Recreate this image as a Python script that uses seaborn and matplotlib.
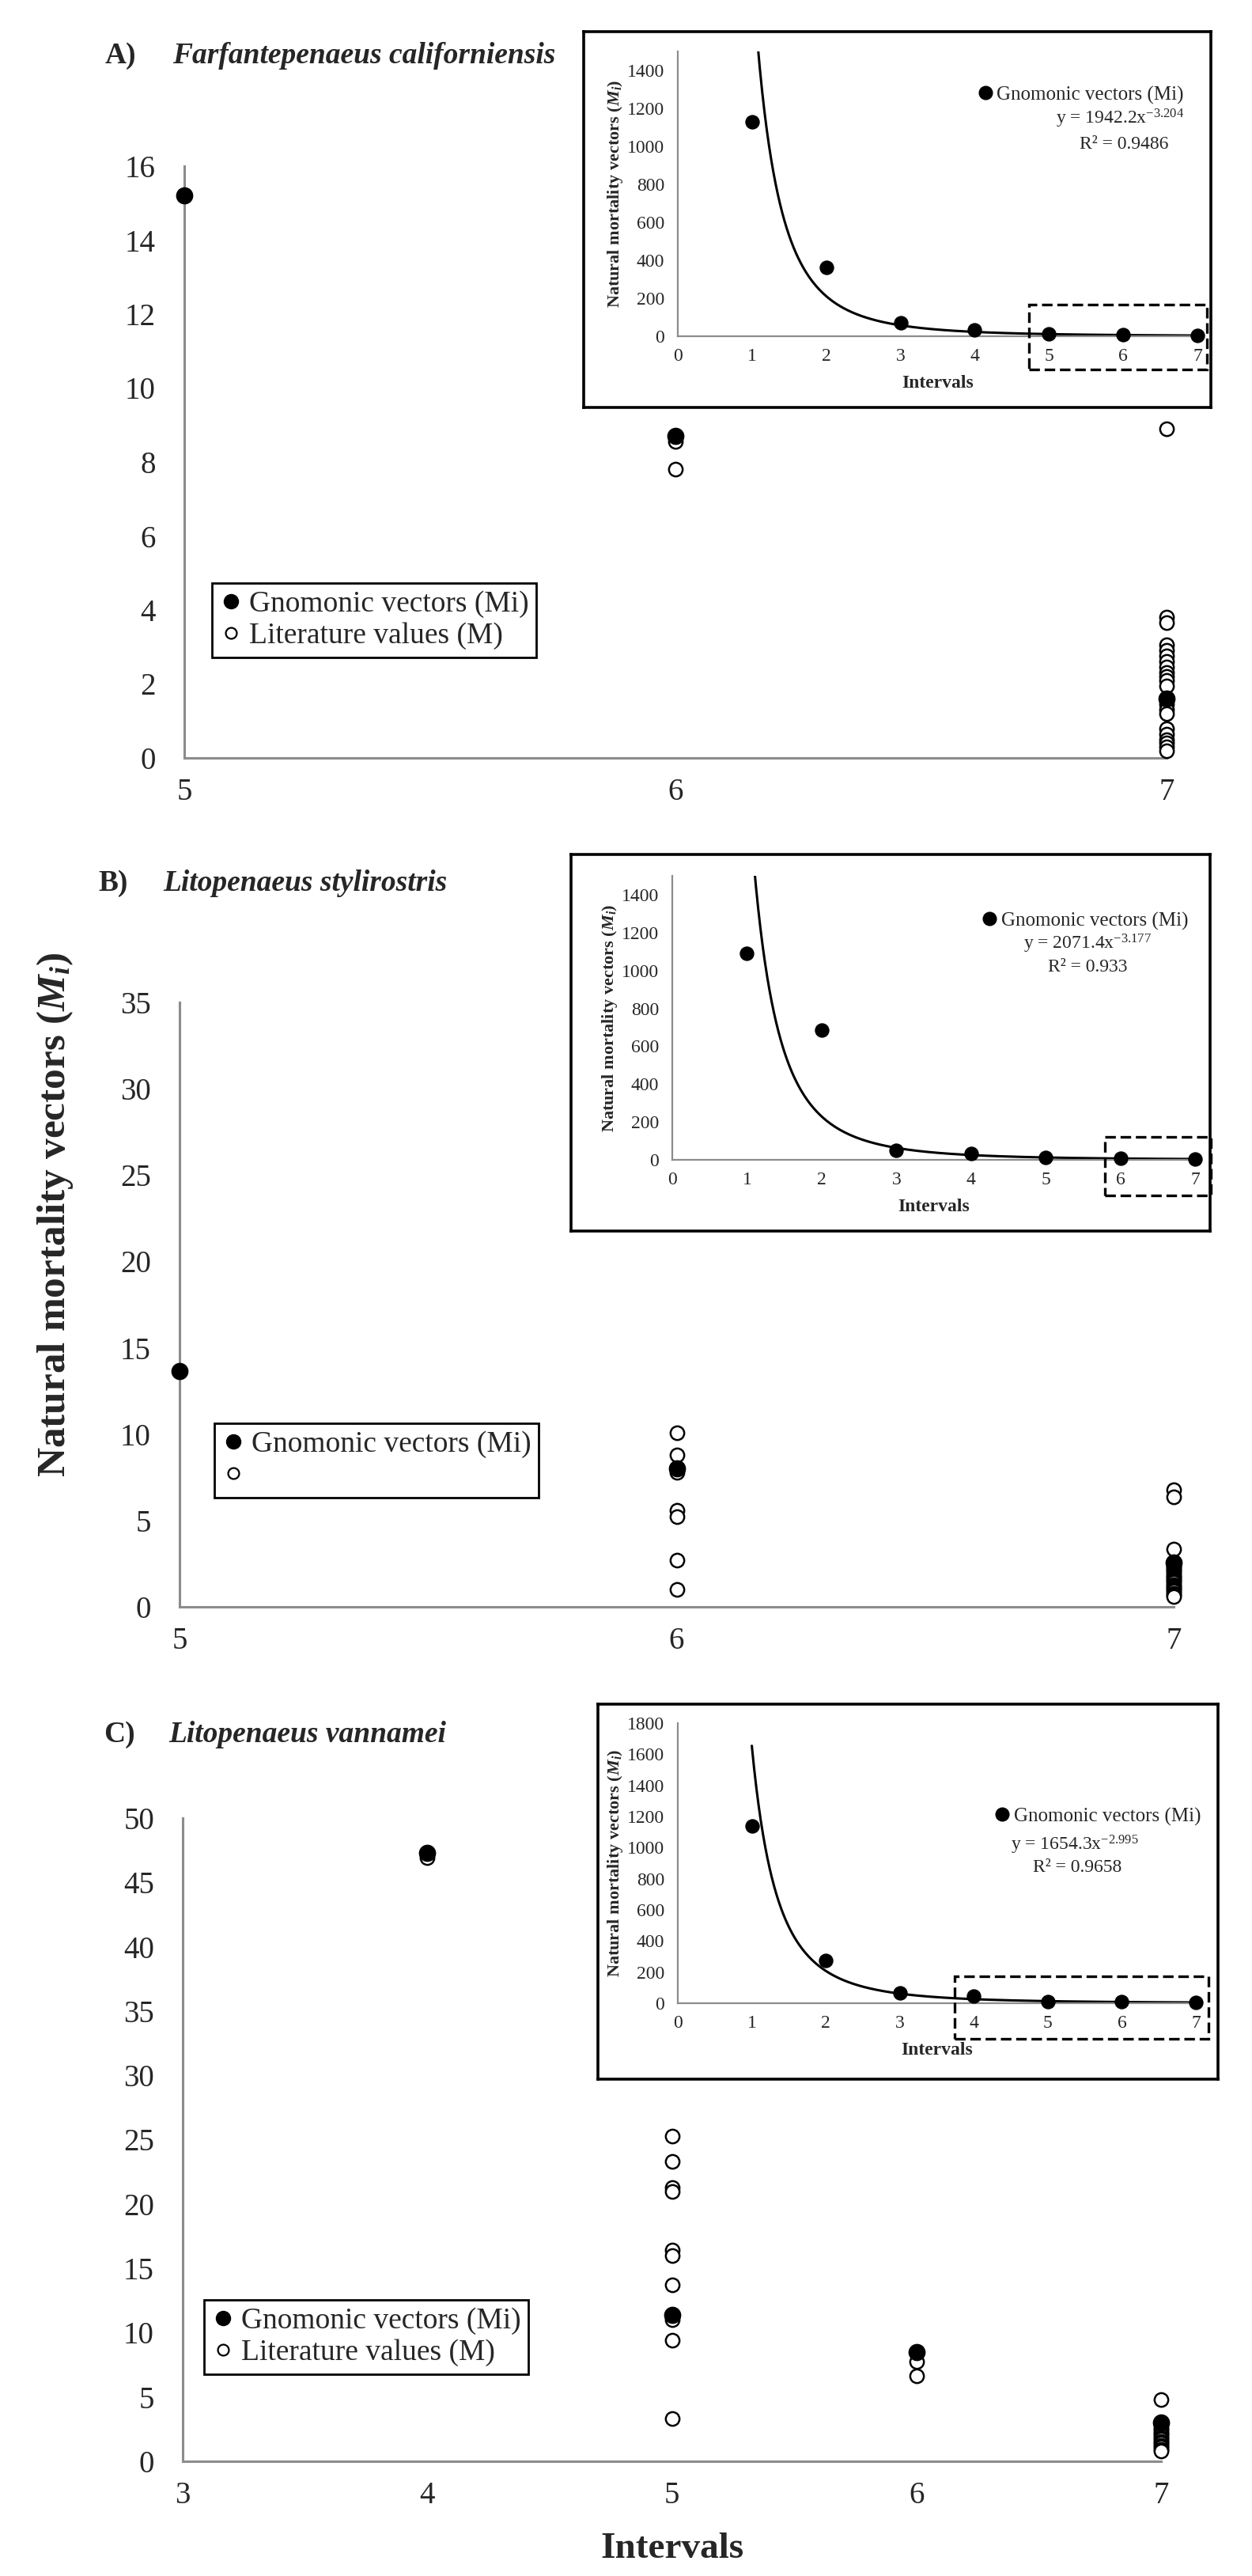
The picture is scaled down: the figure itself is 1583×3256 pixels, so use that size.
import numpy as np
import pandas as pd
import matplotlib
matplotlib.use("Agg")
import matplotlib.pyplot as plt
from matplotlib.lines import Line2D
from matplotlib.patches import Rectangle
import seaborn as sns

# Natural mortality vectors per interval for three shrimp species
# (main panels: gnomonic vectors vs literature values, insets: full gnomonic series + power fit)

# --- A) Farfantepenaeus californiensis ---
a_gnom_x = [5, 6, 7]
a_gnom_y = [15.2, 8.7, 1.6]
a_lit = {6: [8.55, 7.8],
         7: [8.9, 3.8, 3.65, 3.05, 2.9, 2.75, 2.6, 2.45, 2.3, 2.2, 2.1, 1.95,
             1.45, 1.3, 1.2, 0.8, 0.65, 0.5, 0.4, 0.3, 0.2]}
a_ins_y = [1130, 362, 71, 33, 12, 8, 4]
a_fit = (1942.2, -3.204, "0.9486")

# --- B) Litopenaeus stylirostris ---
b_gnom_x = [5, 6, 7]
b_gnom_y = [13.65, 8.0, 2.55]
b_lit = {6: [10.1, 8.8, 7.8, 5.6, 5.2, 2.7, 1.0],
         7: [6.8, 6.35, 3.35, 2.4, 2.3, 2.2, 2.1, 2.0, 1.9, 1.8, 1.7, 1.6,
             1.5, 1.4, 1.3, 1.2, 1.1, 1.0, 0.9, 0.8, 0.7, 0.6]}
b_ins_y = [1092, 686, 50, 33, 13, 8, 5]
b_fit = (2071.4, -3.177, "0.933")

# --- C) Litopenaeus vannamei ---
c_gnom_x = [4, 5, 6, 7]
c_gnom_y = [47.3, 11.4, 8.5, 3.0]
c_lit = {4: [46.9],
         5: [25.3, 23.3, 21.3, 21.0, 16.4, 16.0, 13.7, 11.0, 9.4, 3.3],
         6: [7.75, 6.65],
         7: [4.8, 2.8, 2.6, 2.45, 2.3, 2.15, 2.0, 1.85, 1.7, 1.55, 1.4,
             1.25, 1.1, 0.95, 0.8]}
c_ins_y = [1139, 275, 66, 46, 12, 8, 5]
c_fit = (1654.3, -2.995, "0.9658")

ins_x = [1, 2, 3, 4, 5, 6, 7]

sns.set_style("white")
plt.rcParams["font.family"] = ["Liberation Serif", "DejaVu Serif"]
plt.rcParams["mathtext.fontset"] = "custom"
plt.rcParams["mathtext.rm"] = "Liberation Serif"
plt.rcParams["mathtext.it"] = "Liberation Serif:italic"
plt.rcParams["mathtext.bf"] = "Liberation Serif:bold"
plt.rcParams["mathtext.bfit"] = "Liberation Serif:italic:bold"

W, H = 1583, 3256
fig = plt.figure(figsize=(W / 100, H / 100), dpi=100)
fig.patch.set_facecolor("white")


def rect(l, t, r, b):
    return [l / W, 1 - b / H, (r - l) / W, (b - t) / H]


def fx(x):
    return x / W


def fy(y):
    return 1 - y / H


GRAY = "#8c8c8c"


def lit_frame(d):
    rows = [(k, v) for k, vals in d.items() for v in vals]
    return pd.DataFrame(rows, columns=["interval", "M"])


def main_panel(box, gx, gy, lit, xlim, ylim, yticks, xticks, leg_pos, lit_label):
    ax = fig.add_axes(rect(*box))
    lit_df = lit_frame(lit)
    gn_df = pd.DataFrame({"interval": gx, "M": gy})
    sns.scatterplot(data=lit_df, x="interval", y="M", ax=ax, color="white",
                    edgecolor="black", linewidth=1.8, s=155, clip_on=False,
                    zorder=3, legend=False)
    sns.scatterplot(data=gn_df, x="interval", y="M", ax=ax, color="black",
                    edgecolor="black", s=210, clip_on=False, zorder=4,
                    legend=False)
    ax.set_xlim(*xlim)
    ax.set_ylim(*ylim)
    ax.set_xticks(xticks)
    ax.set_yticks(yticks)
    ax.set_xlabel("")
    ax.set_ylabel("")
    for s in ["top", "right"]:
        ax.spines[s].set_visible(False)
    for s in ["left", "bottom"]:
        ax.spines[s].set_color(GRAY)
        ax.spines[s].set_linewidth(2.2)
    ax.tick_params(axis="y", length=0, pad=26, labelsize=28)
    ax.tick_params(axis="x", length=0, pad=18, labelsize=28)
    handles = [Line2D([], [], marker="o", color="black", ls="None", markersize=13),
               Line2D([], [], marker="o", markerfacecolor="white",
                      markeredgecolor="black", ls="None", markersize=10,
                      markeredgewidth=1.6)]
    leg = ax.legend(handles, ["Gnomonic vectors (Mi)", lit_label],
                    loc="upper left", bbox_to_anchor=(fx(leg_pos[0]), fy(leg_pos[1])),
                    bbox_transform=fig.transFigure, frameon=True, fancybox=False,
                    edgecolor="black", framealpha=1, fontsize=27,
                    handlelength=0.8, handletextpad=0.2, borderpad=0.25,
                    labelspacing=0.15, borderaxespad=0)
    leg.get_frame().set_linewidth(2.0)
    return ax


def inset_panel(frame_box, box, ydata, fit, ymax, ystep, leg_xy, eq_xy, r2_xy, dash_box):
    fr = fig.add_axes(rect(*frame_box))
    fr.set_xticks([])
    fr.set_yticks([])
    fr.set_facecolor("white")
    for s in fr.spines.values():
        s.set_color("black")
        s.set_linewidth(2.6)

    ax = fig.add_axes(rect(*box))
    ax.patch.set_alpha(0)
    a, b, r2 = fit
    xs = np.linspace(1, 7, 400)
    sns.lineplot(x=xs, y=a * xs ** b, ax=ax, color="black", linewidth=2.2,
                 zorder=2)
    sns.scatterplot(x=ins_x, y=ydata, ax=ax, color="black", edgecolor="black",
                    s=150, clip_on=False, zorder=3, legend=False)
    ax.set_xlim(0, 7)
    ax.set_ylim(0, ymax)
    ax.set_xticks(range(0, 8))
    ax.set_yticks(np.arange(0, ymax + 1, ystep))
    for s in ["top", "right"]:
        ax.spines[s].set_visible(False)
    for s in ["left", "bottom"]:
        ax.spines[s].set_color(GRAY)
        ax.spines[s].set_linewidth(1.6)
    ax.tick_params(axis="both", length=0, labelsize=17)
    ax.tick_params(axis="y", pad=12)
    ax.tick_params(axis="x", pad=11)
    ax.set_xlabel("Intervals", fontsize=17, fontweight="bold", labelpad=9)
    ax.set_ylabel(r"Natural mortality vectors ($\mathbfit{M_i}$)", fontsize=16,
                  fontweight="bold", labelpad=2)
    h = [Line2D([], [], marker="o", color="black", ls="None", markersize=12)]
    ax.legend(h, ["Gnomonic vectors (Mi)"], loc="center left",
              bbox_to_anchor=(fx(leg_xy[0]), fy(leg_xy[1])),
              bbox_transform=fig.transFigure, frameon=False, fontsize=18,
              handlelength=1.0, handletextpad=0.1, borderpad=0, borderaxespad=0)
    fig.text(fx(eq_xy[0]), fy(eq_xy[1]),
             "y = %.1fx$^{\\mathregular{%.3f}}$" % (a, b),
             fontsize=17, ha="center", va="center")
    fig.text(fx(r2_xy[0]), fy(r2_xy[1]), "R\u00b2 = " + r2,
             fontsize=17, ha="center", va="center")
    l, t, r, bt = dash_box
    fig.add_artist(Rectangle((fx(l), fy(bt)), fx(r) - fx(l), fy(t) - fy(bt),
                             transform=fig.transFigure, fill=False,
                             edgecolor="black", linewidth=2.4,
                             linestyle=(0, (4, 1.8)), zorder=10))
    return ax


# ---- panel A ----
main_panel((233, 210, 1475, 958), a_gnom_x, a_gnom_y, a_lit, (5, 7), (0, 16),
           np.arange(0, 17, 2), [5, 6, 7], (268, 737), "Literature values (M)")
inset_panel((738, 40, 1531, 515), (857, 65, 1514, 425), a_ins_y, a_fit, 1500, 200,
            (1233, 120), (1416, 150), (1421, 182), (1301, 385, 1526, 467))
fig.text(fx(133), fy(70), "A)", fontsize=27, fontweight="bold", va="center")
fig.text(fx(218), fy(70), "Farfantepenaeus californiensis", fontsize=27,
         fontweight="bold", fontstyle="italic", va="center")

# ---- panel B ----
main_panel((227, 1267, 1484, 2031), b_gnom_x, b_gnom_y, b_lit, (5, 7), (0, 35),
           np.arange(0, 36, 5), [5, 6, 7], (271, 1799), "")
inset_panel((722, 1080, 1530, 1556), (850, 1107, 1511, 1466), b_ins_y, b_fit, 1500, 200,
            (1238, 1164), (1375, 1193), (1375, 1223), (1397, 1437, 1531, 1511))
fig.text(fx(124), fy(1116), "B)", fontsize=27, fontweight="bold", va="center")
fig.text(fx(206), fy(1116), "Litopenaeus stylirostris", fontsize=27,
         fontweight="bold", fontstyle="italic", va="center")

# ---- panel C ----
main_panel((231, 2298, 1468, 3111), c_gnom_x, c_gnom_y, c_lit, (3, 7), (0, 50),
           np.arange(0, 51, 5), [3, 4, 5, 6, 7], (258, 2907), "Literature values (M)")
inset_panel((756, 2154, 1540, 2628), (857, 2178, 1512, 2532), c_ins_y, c_fit, 1800, 200,
            (1254, 2296), (1359, 2332), (1362, 2361), (1207, 2498, 1528, 2577))
fig.text(fx(131), fy(2193), "C)", fontsize=27, fontweight="bold", va="center")
fig.text(fx(213), fy(2193), "Litopenaeus vannamei", fontsize=27,
         fontweight="bold", fontstyle="italic", va="center")

# shared axis labels
fig.text(fx(70), fy(1535), r"Natural mortality vectors ($\mathbfit{M_i}$)",
         rotation=90, fontsize=37, fontweight="bold", ha="center", va="center")
fig.text(fx(850), fy(3222), "Intervals", fontsize=34, fontweight="bold",
         ha="center", va="center")

fig.savefig("out.png", dpi=100, facecolor="white")
